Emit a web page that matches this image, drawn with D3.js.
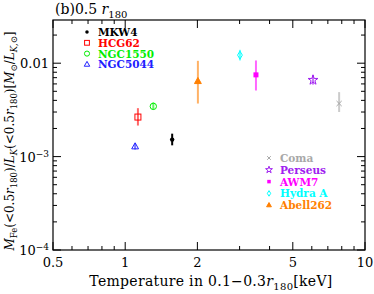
<!DOCTYPE html>
<html>
<head>
<meta charset="utf-8">
<script src="https://cdn.jsdelivr.net/npm/d3@7"></script>
<style>
  body { margin: 0; background: #fff; }
  svg text { font-family: "DejaVu Serif", "Liberation Serif", serif; }
</style>
</head>
<body>
<svg id="chart" width="374" height="294"></svg>
<script>
// --- data ---
const groups = ["MKW4", "HCG62", "NGC1550", "NGC5044"];
const clusters = ["Coma", "Perseus", "AWM7", "Hydra A", "Abell262"];
const names = ["MKW4", "HCG62", "NGC1550", "NGC5044", "Abell262", "Hydra A", "AWM7", "Perseus", "Coma"];
const temps = [1.57, 1.13, 1.31, 1.10, 2.01, 3.01, 3.51, 6.07, 7.80];
const ratio = [0.00152, 0.00265, 0.00345, 0.00128, 0.0064, 0.0122, 0.0075, 0.0066, 0.0037];
const errLo = [0.00132, 0.00215, 0.00318, 0.00119, 0.0037, 0.0107, 0.0051, 0.0059, 0.0030];
const errHi = [0.00176, 0.0033, 0.0038, 0.00138, 0.0106, 0.0139, 0.0107, 0.0075, 0.0049];
const colors = {
  "MKW4": "#000000", "HCG62": "#ff0000", "NGC1550": "#00ee00", "NGC5044": "#2020ff",
  "Abell262": "#ff7f00", "Hydra A": "#00ffff", "AWM7": "#ff00ff", "Perseus": "#a020f0", "Coma": "#a8a8a8"
};
const shapes = {
  "MKW4": "dot", "HCG62": "osquare", "NGC1550": "ocircle", "NGC5044": "otri",
  "Abell262": "ftri", "Hydra A": "odiamond", "AWM7": "fsquare", "Perseus": "ostar", "Coma": "cross"
};
const xTicks = [0.5, 1, 2, 5, 10];
const yTicks = [1e-4, 1e-3, 0.01];

const svg = d3.select("#chart");
const margin = { left: 53, right: 9, top: 20, bottom: 44 };
const W = 374, H = 294;
const x = d3.scaleLog().domain([0.5, 10]).range([margin.left, W - margin.right]);
const y = d3.scaleLog().domain([1e-4, 0.029]).range([H - margin.bottom, margin.top]);

// frame
svg.append("rect")
  .attr("x", x.range()[0]).attr("y", y.range()[1])
  .attr("width", x.range()[1] - x.range()[0]).attr("height", y.range()[0] - y.range()[1])
  .attr("fill", "none").attr("stroke", "#000").attr("stroke-width", 1.2);

// ticks (inward, all four sides)
const xMinor = [];
[0.1, 1].forEach(d => { for (let k = 1; k <= 9; k++) { const v = d * k; if (v >= 0.5 && v <= 10) xMinor.push(v); } });
xMinor.push(10);
const yMinor = [];
[1e-4, 1e-3, 1e-2].forEach(d => { for (let k = 1; k <= 9; k++) { const v = d * k; if (v <= 0.029) yMinor.push(v); } });

const tk = svg.append("g").attr("stroke", "#000").attr("stroke-width", 1);
xMinor.forEach(v => {
  const big = xTicks.some(t => Math.abs(t - v) / t < 1e-6) ? 8 : 4;
  const px = x(v);
  tk.append("line").attr("x1", px).attr("x2", px).attr("y1", y.range()[0]).attr("y2", y.range()[0] - big);
  tk.append("line").attr("x1", px).attr("x2", px).attr("y1", y.range()[1]).attr("y2", y.range()[1] + big);
});
yMinor.forEach(v => {
  const big = yTicks.some(t => Math.abs(t - v) / t < 1e-6) ? 8 : 4;
  const py = y(v);
  tk.append("line").attr("x1", x.range()[0]).attr("x2", x.range()[0] + big).attr("y1", py).attr("y2", py);
  tk.append("line").attr("x1", x.range()[1]).attr("x2", x.range()[1] - big).attr("y1", py).attr("y2", py);
});

// x tick labels
svg.append("g").selectAll("text").data(xTicks).join("text")
  .attr("x", d => x(d)).attr("y", y.range()[0] + 17)
  .attr("text-anchor", "middle").attr("font-size", 13)
  .text(d => d);

// y tick labels
const yl = svg.append("g");
yl.append("text").attr("x", 49).attr("y", y(0.01) + 5).attr("text-anchor", "end").attr("font-size", 13).text("0.01");
[[1e-3, "−3"], [1e-4, "−4"]].forEach(([v, e]) => {
  const t = yl.append("text").attr("x", 49).attr("y", y(v) + 5).attr("text-anchor", "end").attr("font-size", 13);
  t.append("tspan").text("10");
  t.append("tspan").attr("dy", -5).attr("font-size", 9).text(e);
});

// title
const title = svg.append("text").attr("x", 55).attr("y", 14).attr("font-size", 14);
title.append("tspan").text("(b)0.5 ");
title.append("tspan").attr("font-style", "italic").text("r");
title.append("tspan").attr("dy", 4).attr("font-size", 10).text("180");

// x axis label
const xl = svg.append("text").attr("x", 211).attr("y", 286)
  .attr("text-anchor", "middle").attr("font-size", 14).attr("letter-spacing", 0.3);
xl.append("tspan").text("Temperature in 0.1−0.3");
xl.append("tspan").attr("font-style", "italic").text("r");
xl.append("tspan").attr("dy", 4).attr("font-size", 10).text("180");
xl.append("tspan").attr("dy", -4).text("[keV]");

// y axis label (rotated)
const ylab = svg.append("text")
  .attr("transform", "translate(14,141) rotate(-90)")
  .attr("text-anchor", "middle").attr("font-size", 12);
ylab.append("tspan").attr("font-style", "italic").text("M");
ylab.append("tspan").attr("dy", 3).attr("font-size", 8.5).text("Fe");
ylab.append("tspan").attr("dy", -3).text("(<0.5");
ylab.append("tspan").attr("font-style", "italic").text("r");
ylab.append("tspan").attr("dy", 3).attr("font-size", 8.5).text("180");
ylab.append("tspan").attr("dy", -3).text(")/");
ylab.append("tspan").attr("font-style", "italic").text("L");
ylab.append("tspan").attr("dy", 3).attr("font-size", 8.5).attr("font-style", "italic").text("K");
ylab.append("tspan").attr("dy", -3).text("(<0.5");
ylab.append("tspan").attr("font-style", "italic").text("r");
ylab.append("tspan").attr("dy", 3).attr("font-size", 8.5).text("180");
ylab.append("tspan").attr("dy", -3).text(")[");
ylab.append("tspan").attr("font-style", "italic").text("M");
ylab.append("tspan").attr("dy", 3).attr("font-size", 8.5).text("⊙");
ylab.append("tspan").attr("dy", -3).text("/");
ylab.append("tspan").attr("font-style", "italic").text("L");
ylab.append("tspan").attr("dy", 3).attr("font-size", 8.5).attr("font-style", "italic").text("K,⊙");
ylab.append("tspan").attr("dy", -3).text("]");

// marker drawing
function marker(g, shape, cx, cy, col, s) {
  s = s || 1;
  if (shape === "dot") g.append("circle").attr("cx", cx).attr("cy", cy).attr("r", 2.2 * s).attr("fill", col);
  else if (shape === "osquare") g.append("rect").attr("x", cx - 3 * s).attr("y", cy - 3 * s).attr("width", 6 * s).attr("height", 6 * s).attr("fill", "none").attr("stroke", col).attr("stroke-width", 1);
  else if (shape === "fsquare") g.append("rect").attr("x", cx - 2.5 * s).attr("y", cy - 2.5 * s).attr("width", 5 * s).attr("height", 5 * s).attr("fill", col);
  else if (shape === "ocircle") g.append("circle").attr("cx", cx).attr("cy", cy).attr("r", 3.2 * s).attr("fill", "none").attr("stroke", col).attr("stroke-width", 1);
  else if (shape === "otri" || shape === "ftri") {
    const r = 3.8 * s;
    g.append("path").attr("d", `M${cx},${cy - r}L${cx + r * 0.9},${cy + r * 0.6}L${cx - r * 0.9},${cy + r * 0.6}Z`)
      .attr("fill", shape === "ftri" ? col : "none").attr("stroke", col).attr("stroke-width", 1);
  } else if (shape === "odiamond") {
    const r = 4 * s;
    g.append("path").attr("d", `M${cx},${cy - r}L${cx + r * 0.6},${cy}L${cx},${cy + r}L${cx - r * 0.6},${cy}Z`)
      .attr("fill", "none").attr("stroke", col).attr("stroke-width", 1);
  } else if (shape === "ostar") {
    g.append("path").attr("d", d3.symbol(d3.symbolStar, 30 * s * s)()).attr("transform", `translate(${cx},${cy})`)
      .attr("fill", "none").attr("stroke", col).attr("stroke-width", 1);
  } else if (shape === "cross") {
    const r = 2.6 * s;
    g.append("path").attr("d", `M${cx - r},${cy - r}L${cx + r},${cy + r}M${cx - r},${cy + r}L${cx + r},${cy - r}`)
      .attr("stroke", col).attr("stroke-width", 1);
  }
}

// points with error bars
const pts = svg.append("g");
names.forEach((n, i) => {
  const col = colors[n];
  pts.append("line").attr("x1", x(temps[i])).attr("x2", x(temps[i]))
    .attr("y1", y(errLo[i])).attr("y2", y(errHi[i]))
    .attr("stroke", col).attr("stroke-width", 2).attr("stroke-opacity", n === "MKW4" ? 1 : 0.6);
  marker(pts, shapes[n], x(temps[i]), y(ratio[i]), col);
});

// legends
const lg1 = svg.append("g");
groups.forEach((n, i) => {
  const yy = 32 + i * 10.8;
  marker(lg1, shapes[n], 87, yy, colors[n], 0.8);
  lg1.append("text").attr("x", 98).attr("y", yy + 4).attr("font-size", 10.5).attr("font-weight", "bold")
    .attr("fill", colors[n]).text(n);
});
const lg2 = svg.append("g");
clusters.forEach((n, i) => {
  const yy = 158 + i * 11.8;
  marker(lg2, shapes[n], 269, yy, colors[n], 0.7);
  lg2.append("text").attr("x", 280).attr("y", yy + 4).attr("font-size", 10.5).attr("font-weight", "bold")
    .attr("fill", colors[n]).text(n);
});
</script>
</body>
</html>
